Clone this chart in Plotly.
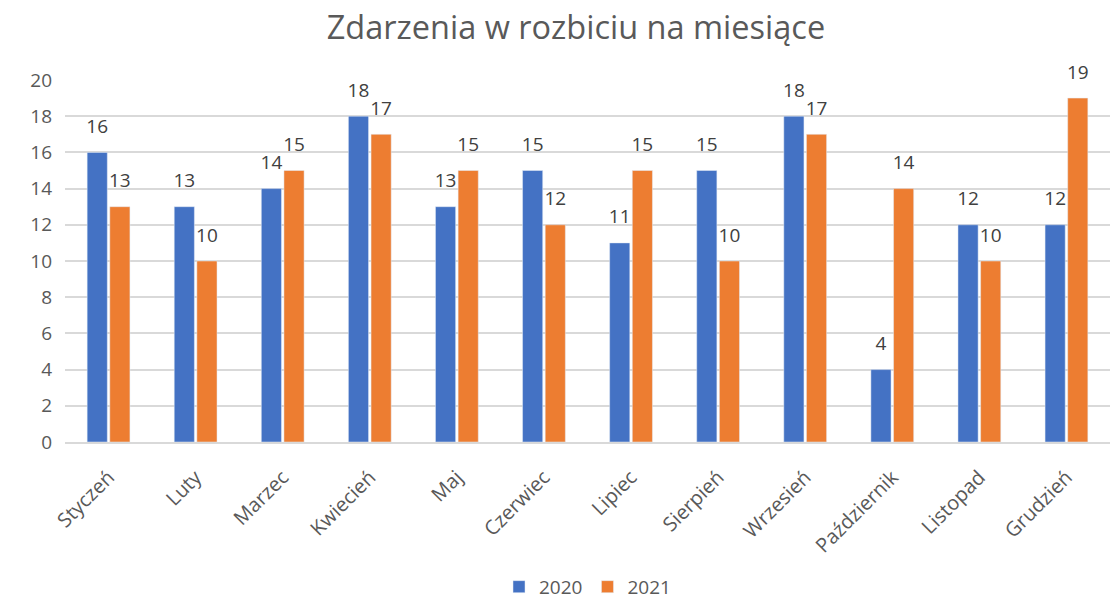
import plotly.graph_objects as go

months = ["Styczeń", "Luty", "Marzec", "Kwiecień", "Maj", "Czerwiec", "Lipiec",
          "Sierpień", "Wrzesień", "Październik", "Listopad", "Grudzień"]
v2020 = [16, 13, 14, 18, 13, 15, 11, 15, 18, 4, 12, 12]
v2021 = [13, 10, 15, 17, 15, 12, 15, 10, 17, 14, 10, 19]

FONT = "Open Sans"
GRAY = "#595959"
LABEL = "#404040"

fig = go.Figure()
for name, vals, color in [("2020", v2020, "#4472C4"), ("2021", v2021, "#ED7D31")]:
    fig.add_bar(x=months, y=vals, name=name, marker_color=color,
                offsetgroup=name, alignmentgroup="a")
for name, vals in [("2020", v2020), ("2021", v2021)]:
    fig.add_scatter(x=months, y=vals, mode="markers+text", text=vals,
                    textposition="top center", showlegend=False, hoverinfo="skip",
                    marker=dict(size=22, opacity=0), cliponaxis=False,
                    offsetgroup=name, alignmentgroup="a",
                    textfont=dict(size=19, color=LABEL, family=FONT))

fig.update_layout(
    width=1114, height=605,
    margin=dict(l=65, r=4, t=80, b=163, autoexpand=False),
    paper_bgcolor="white", plot_bgcolor="white",
    barmode="group", bargap=0.48, bargroupgap=0.11,
    scattermode="group", scattergap=0.48,
    title=dict(text="Zdarzenia w rozbiciu na miesiące", x=0.517, xanchor="center",
               y=0.955, yanchor="middle",
               font=dict(size=32.5, color=GRAY, family=FONT)),
    font=dict(family=FONT, color=GRAY),
    legend=dict(orientation="h", x=0.5, xanchor="center", y=-0.40, yanchor="middle",
                font=dict(size=19, color=GRAY), traceorder="normal"),
    xaxis=dict(tickangle=-45, tickfont=dict(size=20, color=GRAY), showline=True,
               linecolor="#D9D9D9", linewidth=1.5, ticks="", automargin=False,
               ticklabelstandoff=14),
    yaxis=dict(range=[0, 20], dtick=2, tickfont=dict(size=19, color=GRAY),
               gridcolor="#D9D9D9", gridwidth=1.5, zeroline=False, showline=False,
               ticks="", ticklabelstandoff=12, automargin=False),
)

fig.write_html("out.html", config={"displayModeBar": False},
               post_script="document.body.style.margin='0';")
